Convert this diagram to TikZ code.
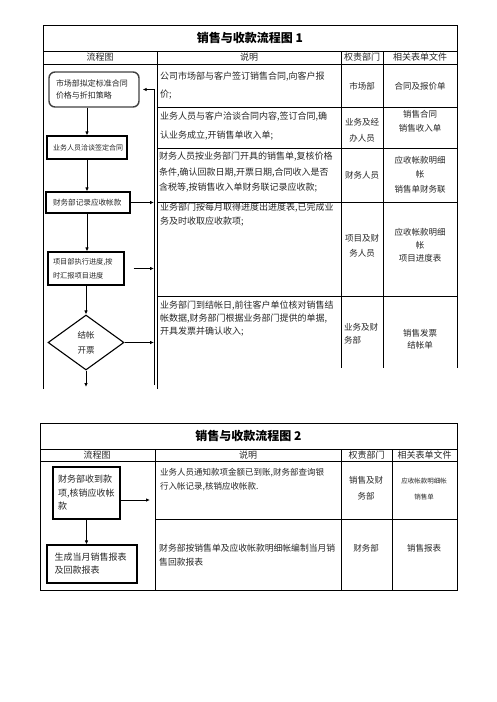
\documentclass[tikz,border=0pt]{standalone}
\usepackage{fontspec}
\setmainfont{Noto Sans CJK SC}
\usetikzlibrary{arrows.meta,shapes.geometric}
\tikzset{
  rule/.style={line width=0.8pt},
  flowbox/.style={draw, line width=1.1pt, align=left, inner sep=0pt, text=black!85},
  arr/.style={line width=0.9pt, -{Latex[length=4pt,width=3.5pt]}},
  desc/.style={anchor=west, align=left, inner sep=0pt, text=black!85, font=\fontsize{9}{#1}\selectfont},
  cell/.style={align=center, inner sep=0pt, text=black!85, font=\fontsize{8.5}{#1}\selectfont},
  head/.style={inner sep=0pt, text=black!85, font=\fontsize{9}{11}\selectfont},
  title/.style={inner sep=0pt, font=\fontsize{12}{14}\bfseries\selectfont}
}
\begin{document}
\begin{tikzpicture}[x=1pt,y=-1pt]
  \useasboundingbox (0,0) rectangle (496,702);
  \draw[rule] (43,389) -- (43,25) -- (457,25) -- (457,368);
  \draw[rule] (43,51) -- (457,51) (43,64) -- (457,64);
  \draw[rule] (157,51) -- (157,389) (341,51) -- (341,368) (383,51) -- (383,368);
  \draw[rule] (157,107) -- (457,107) (157,148) -- (457,148)
              (157,202) -- (457,202) (157,296) -- (457,296);
  \node[title] (t1) at (250,38) {销售与收款流程图 1};
  \node[head] (h11) at (100,57.5) {流程图};
  \node[head] (h12) at (249,57.5) {说明};
  \node[head] (h13) at (362,57.5) {权责部门};
  \node[head] (h14) at (420,57.5) {相关表单文件};
  \node[desc=18] (d1) at (160,86) {公司市场部与客户签订销售合同,向客户报\\价;};
  \node[desc=19] (d2) at (160,126.5) {业务人员与客户洽谈合同内容,签订合同,确\\认业务成立,开销售单收入单;};
  \node[desc=15.5] (d3) at (159,172.5) {财务人员按业务部门开具的销售单,复核价格\\条件,确认回款日期,开票日期,合同收入是否\\含税等,按销售收入单财务联记录应收款;};
  \node[desc=14] (d4) at (160,215) {业务部门按每月取得进度出进度表,已完成业\\务及时收取应收款项;};
  \node[desc=13] (d5) at (160,319) {业务部门到结帐日,前往客户单位核对销售结\\帐数据,财务部门根据业务部门提供的单据,\\开具发票并确认收入;};
  \node[cell=12] (p1) at (362,86) {市场部};
  \node[cell=16] (p2) at (362,130.5) {业务及经\\办人员};
  \node[cell=12] (p3) at (362,175) {财务人员};
  \node[cell=15] (p4) at (362,245.5) {项目及财\\务人员};
  \node[cell=13, anchor=west, align=left] (p5) at (344,333.5) {业务及财\\务部};
  \node[cell=12] (f1) at (420,86) {合同及报价单};
  \node[cell=14] (f2) at (420,121) {销售合同\\销售收入单};
  \node[cell=14.5] (f3) at (420,174.5) {应收帐款明细\\帐\\销售单财务联};
  \node[cell=13] (f4) at (420,245) {应收帐款明细\\帐\\项目进度表};
  \node[cell=12] (f5) at (420,339.5) {销售发票\\结帐单};
  \node[flowbox, draw=black!75, line width=1.4pt, rounded corners=6pt, minimum width=90pt, minimum height=35pt, text width=76pt, font=\fontsize{8}{12}\selectfont] (mkt) at (94,89.5) {市场部拟定标准合同\\价格与折扣策略};
  \node[flowbox, minimum width=80pt, minimum height=23pt, text width=68pt, font=\fontsize{7}{9}\selectfont] (sign) at (87,147.5) {业务人员洽谈签定合同};
  \node[flowbox, minimum width=84pt, minimum height=21pt, text width=70pt, font=\fontsize{7.6}{9}\selectfont] (rec) at (88,202.5) {财务部记录应收帐款};
  \node[flowbox, minimum width=76pt, minimum height=33pt, text width=66pt, font=\fontsize{7.2}{14}\selectfont] (proj) at (86,268.5) {项目部执行进度,按\\时汇报项目进度};
  \node[draw, diamond, line width=1.1pt, inner sep=0pt, minimum width=76pt, minimum height=55pt, align=center, text=black!85, font=\fontsize{8.5}{15}\selectfont] (bill) at (86,342.5) {结帐\\开票};
  \coordinate (end1) at (86,387);
  \coordinate (loop) at (154,385);
  \begin{scope}[arr]
    \draw (mkt.south -| sign.north) to (sign.north);
    \draw (sign.south) to (sign.south |- rec.north);
    \draw (rec.south -| sign.south) to (sign.south |- proj.north);
    \draw (proj.south) to (bill.north);
    \draw (bill.south) to (end1);
    \draw (loop) -- (loop |- mkt.east) to ([xshift=3pt]mkt.east);
    \draw (rec.east) to (rec.east -| loop);
    \draw[shorten <=9pt] (proj.east) to (proj.east -| loop);
    \draw (bill.east) to (bill.east -| loop);
  \end{scope}
  \draw[rule] (40,423) rectangle (457,590);
  \draw[rule] (40,449) -- (457,449) (40,461) -- (457,461);
  \draw[rule] (155,449) -- (155,590) (341,449) -- (341,590) (392,449) -- (392,590);
  \draw[rule] (155,519) -- (457,519);
  \node[title] (t2) at (248.5,436) {销售与收款流程图 2};
  \node[head] (h21) at (97,455) {流程图};
  \node[head] (h22) at (248,455) {说明};
  \node[head] (h23) at (366.5,455) {权责部门};
  \node[head] (h24) at (424.5,455) {相关表单文件};
  \node[desc=14, font=\fontsize{8.5}{14}\selectfont] (e1) at (160,480) {业务人员通知款项金额已到账,财务部查询银\\行入帐记录,核销应收帐款.};
  \node[desc=14, font=\fontsize{8.8}{14}\selectfont] (e2) at (159,555) {财务部按销售单及应收帐款明细帐编制当月销\\售回款报表};
  \node[cell=16] (q1) at (366,488) {销售及财\\务部};
  \node[cell=12] (q2) at (366,548) {财务部};
  \node[cell=16, font=\fontsize{6.5}{16}\selectfont] (g1) at (424,489) {应收帐款明细帐\\销售单};
  \node[cell=12] (g2) at (424,548) {销售报表};
  \node[flowbox, minimum width=67pt, minimum height=52pt, text width=57pt, font=\fontsize{9}{13.5}\selectfont] (recv) at (86.5,493) {财务部收到款\\项,核销应收帐\\款};
  \node[flowbox, minimum width=90pt, minimum height=38pt, text width=75pt, font=\fontsize{9}{13}\selectfont] (rep) at (92,564) {生成当月销售报表\\及回款报表};
  \coordinate (out2) at (150,500);
  \begin{scope}[arr]
    \draw (recv.east |- out2) to (out2);
    \draw (recv.south) to (recv.south |- rep.north);
  \end{scope}
\end{tikzpicture}
\end{document}
